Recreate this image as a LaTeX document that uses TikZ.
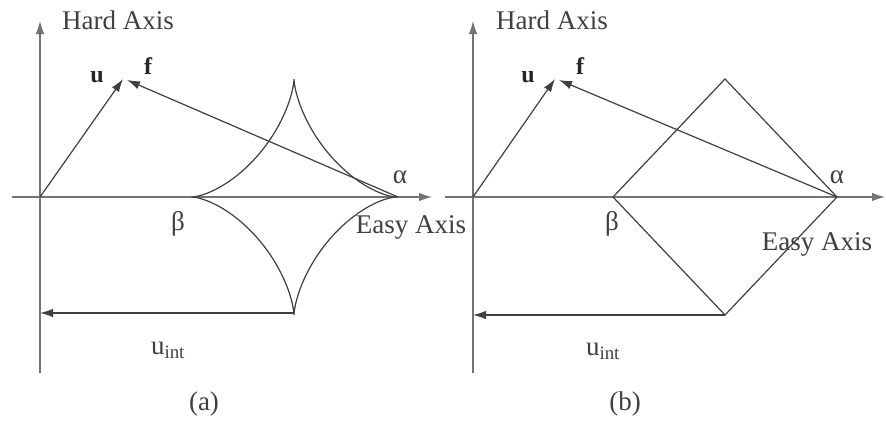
\documentclass[tikz,border=0pt]{standalone}
\usepackage{fontspec}
\setmainfont{Liberation Serif}
\usetikzlibrary{arrows.meta}
\begin{document}
\begin{tikzpicture}[x=1pt,y=-1pt,
  ln/.style={draw=black!75, line width=1.2pt},
  axis/.style={draw=black!55, line width=1.2pt},
  tip/.style={-{Latex[length=13pt,width=8.5pt]}},
  lbl/.style={font=\fontsize{27}{32}\selectfont, inner sep=0pt, text=black!75},
  vec/.style={font=\fontsize{24}{28}\selectfont\bfseries, inner sep=0pt, text=black!85},
]
\useasboundingbox[fill=white] (0,0) rectangle (886,426);
% ---------- panel (a) ----------
\coordinate (Oa) at (40,197);
\coordinate (Ta) at (40,21);
\coordinate (Ba) at (40,373);
\coordinate (La) at (12,197);
\coordinate (Ra) at (432,197);
\draw[axis,tip] (Ba) -- (Ta);
\draw[axis,tip] (La) -- (Ra);
\coordinate (Ua) at (123,79);
\coordinate (Fa) at (127,80);
\coordinate (Aa) at (398,197);
\coordinate (Da) at (294,313);
\coordinate (Ia) at (40,313);
\draw[ln] plot[domain=0:360, samples=240, variable=\t]
  ({294+102*cos(\t)*cos(\t)*cos(\t)}, {197-118*sin(\t)*sin(\t)*sin(\t)});
\draw[ln,tip] (Oa) -- (Ua);
\draw[ln,tip] (Aa) -- (Fa);
\draw[ln,tip] (Da) -- (Ia);
\node[lbl] (hardA) at (118,20) {Hard Axis};
\node[lbl] (easyA) at (411,227) {Easy Axis};
\node[vec] (ua) at (97,77) {u};
\node[vec] (fa) at (148,66) {f};
\node[lbl] (alA) at (400,177) {α};
\node[lbl] (beA) at (178,224) {β};
\node[lbl] (uiA) at (168,350) {u\textsubscript{int}};
\node[lbl] (capA) at (204,404) {(a)};
% ---------- panel (b) ----------
\coordinate (Ob) at (473,197);
\coordinate (Tb) at (473,21);
\coordinate (Bb) at (473,373);
\coordinate (Lb) at (445,197);
\coordinate (Rb) at (885,197);
\draw[axis,tip] (Bb) -- (Tb);
\draw[axis,tip] (Lb) -- (Rb);
\coordinate (Ub) at (555,79);
\coordinate (Fb) at (559,80);
\coordinate (Ab) at (837,197);
\coordinate (Pb) at (613,197);
\coordinate (Qb) at (725,79);
\coordinate (Db) at (725,315);
\coordinate (Ib) at (473,315);
\draw[ln] (Pb) -- (Qb) -- (Ab) -- (Db) -- cycle;
\draw[ln,tip] (Ob) -- (Ub);
\draw[ln,tip] (Ab) -- (Fb);
\draw[ln,tip] (Db) -- (Ib);
\node[lbl] (hardB) at (552,20) {Hard Axis};
\node[lbl] (easyB) at (817,244) {Easy Axis};
\node[vec] (ub) at (528,77) {u};
\node[vec] (fb) at (580,66) {f};
\node[lbl] (alB) at (837,177) {α};
\node[lbl] (beB) at (612,224) {β};
\node[lbl] (uiB) at (603,351) {u\textsubscript{int}};
\node[lbl] (capB) at (625,404) {(b)};
\end{tikzpicture}
\end{document}
